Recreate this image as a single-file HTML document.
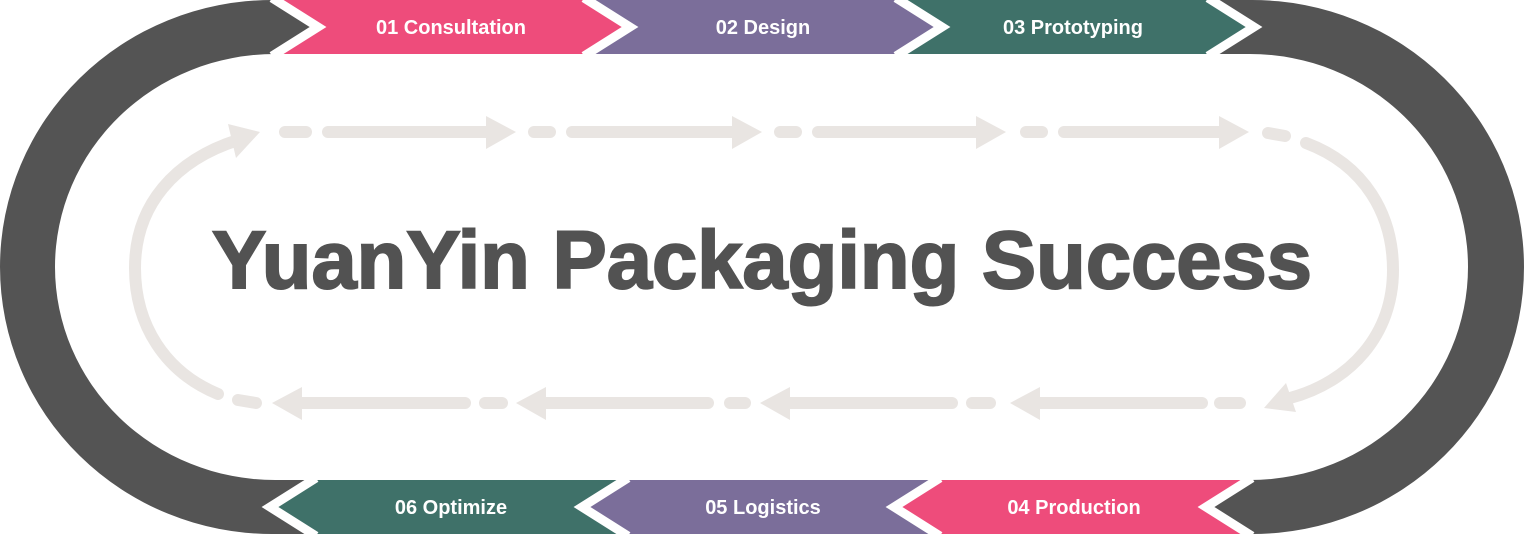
<!DOCTYPE html>
<html><head><meta charset="utf-8"><style>
html,body{margin:0;padding:0;background:#fff;width:1524px;height:534px;overflow:hidden}
svg{display:block}
</style></head><body>
<svg width="1524" height="534" viewBox="0 0 1524 534" xmlns="http://www.w3.org/2000/svg">
<path fill-rule="evenodd" fill="#545454" d="M272,0 H1252 A272,267 0 0 1 1252,534 H272 A272,267 0 0 1 272,0 Z M275,54 H1250 A218,213 0 0 1 1250,480 H275 A220,213 0 0 1 275,54 Z"/>
<polygon fill="#ee4c7b" points="272,0 584,0 630,27 584,54 272,54 318,27"/>
<polygon fill="#7b6e9a" points="584,0 896,0 942,27 896,54 584,54 630,27"/>
<polygon fill="#3f7169" points="896,0 1208,0 1254,27 1208,54 896,54 942,27"/>
<polygon fill="#3f7169" points="316,480 628,480 582,507 628,534 316,534 270,507"/>
<polygon fill="#7b6e9a" points="628,480 940,480 894,507 940,534 628,534 582,507"/>
<polygon fill="#ee4c7b" points="940,480 1252,480 1206,507 1252,534 940,534 894,507"/>
<g fill="none" stroke="#fff" stroke-width="9" stroke-linejoin="miter">
<polyline points="272,-2 318,27 272,56"/>
<polyline points="584,-2 630,27 584,56"/>
<polyline points="896,-2 942,27 896,56"/>
<polyline points="1208,-2 1254,27 1208,56"/>
<polyline points="316,478 270,507 316,536"/>
<polyline points="628,478 582,507 628,536"/>
<polyline points="940,478 894,507 940,536"/>
<polyline points="1252,478 1206,507 1252,536"/>
</g>
<g font-family="Liberation Sans, sans-serif" font-weight="bold" font-size="20" fill="#fff" text-anchor="middle">
<text x="451" y="34">01 Consultation</text>
<text x="763" y="34">02 Design</text>
<text x="1073" y="34">03 Prototyping</text>
<text x="451" y="514">06 Optimize</text>
<text x="763" y="514">05 Logistics</text>
<text x="1074" y="514">04 Production</text>
</g>
<g stroke="#e9e5e2" stroke-width="12" stroke-linecap="round" fill="none">
<line x1="285" y1="132" x2="306" y2="132"/><line x1="328" y1="132" x2="492" y2="132"/>
<line x1="534" y1="132" x2="550" y2="132"/><line x1="572" y1="132" x2="738" y2="132"/>
<line x1="780" y1="132" x2="796" y2="132"/><line x1="818" y1="132" x2="982" y2="132"/>
<line x1="1026" y1="132" x2="1042" y2="132"/><line x1="1064" y1="132" x2="1225" y2="132"/>
<line x1="1268" y1="133" x2="1285" y2="136"/>
<path d="M1306,143 C1365,165 1393,215 1393,270 C1393,335 1350,382 1290,398"/>
<line x1="485" y1="403" x2="502" y2="403"/><line x1="300" y1="403" x2="465" y2="403"/>
<line x1="730" y1="403" x2="745" y2="403"/><line x1="545" y1="403" x2="708" y2="403"/>
<line x1="972" y1="403" x2="990" y2="403"/><line x1="790" y1="403" x2="952" y2="403"/>
<line x1="1220" y1="403" x2="1240" y2="403"/><line x1="1038" y1="403" x2="1202" y2="403"/>
<line x1="238" y1="400" x2="256" y2="403"/>
<path d="M218,394 C165,372 135,325 135,268 C135,205 175,160 238,140"/>
</g>
<g fill="#e9e5e2">
<polygon points="486,116 516,132 486,149"/>
<polygon points="732,116 762,132 732,149"/>
<polygon points="976,116 1006,132 976,149"/>
<polygon points="1219,116 1249,132 1219,149"/>
<polygon points="302,387 272,403 302,420"/>
<polygon points="546,387 516,403 546,420"/>
<polygon points="790,387 760,403 790,420"/>
<polygon points="1040,387 1010,403 1040,420"/>
<polygon points="1286,383 1264,408 1296,412"/>
<polygon points="228,124 260,132 236,158"/>
</g>
<text x="762" y="288" font-family="Liberation Sans, sans-serif" font-weight="bold" font-size="82" fill="#525252" stroke="#525252" stroke-width="2" text-anchor="middle" textLength="1100" lengthAdjust="spacingAndGlyphs">YuanYin Packaging Success</text>
</svg>
</body></html>
